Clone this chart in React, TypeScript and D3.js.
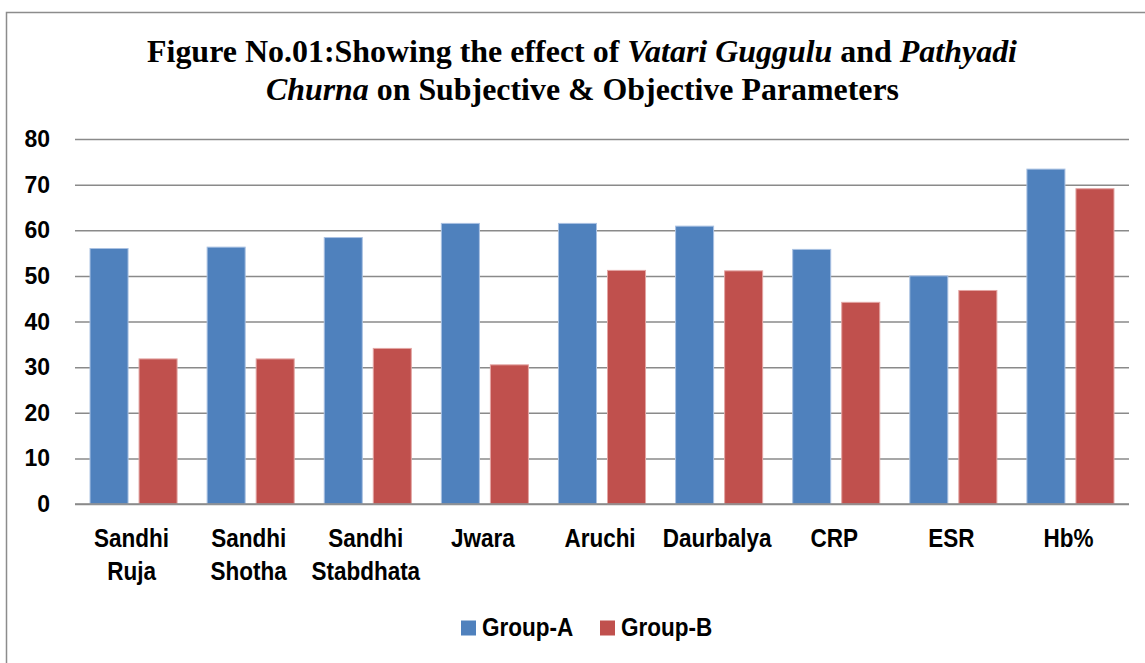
import { useEffect, useRef } from "react";
import * as d3 from "d3";

const categories = [
  "Sandhi Ruja",
  "Sandhi Shotha",
  "Sandhi Stabdhata",
  "Jwara",
  "Aruchi",
  "Daurbalya",
  "CRP",
  "ESR",
  "Hb%",
];
const seriesNames = ["Group-A", "Group-B"];
const groupA = [56.0, 56.3, 58.4, 61.5, 61.5, 60.9, 55.8, 50.0, 73.4];
const groupB = [31.8, 31.8, 34.1, 30.5, 51.2, 51.1, 44.2, 46.8, 69.1];
const yTicks = [0, 10, 20, 30, 40, 50, 60, 70, 80];
const colors = ["#4F81BD", "#C0504D"];
const edgeColors = ["#a9c1e2", "#e3a5a3"];

const titleLine1: [string, boolean][] = [
  ["Figure No.01:Showing the effect of ", false],
  ["Vatari Guggulu", true],
  [" and ", false],
  ["Pathyadi", true],
];
const titleLine2: [string, boolean][] = [
  ["Churna", true],
  [" on Subjective & Objective Parameters", false],
];

const W = 1145;
const H = 663;
const SANS = "'Liberation Sans', Arial, sans-serif";

export default function App() {
  const svgRef = useRef<SVGSVGElement>(null);

  useEffect(() => {
    document.body.style.margin = "0";
    if (!svgRef.current) return;
    const margin = { top: 139, right: 16, bottom: 159, left: 75 };
    const innerW = W - margin.left - margin.right;
    const innerH = H - margin.top - margin.bottom;

    const svg = d3.select(svgRef.current);
    svg.selectAll("*").remove();

    // frame
    svg.append("rect")
      .attr("x", 6.5)
      .attr("y", 12.5)
      .attr("width", W + 10)
      .attr("height", H + 10)
      .attr("fill", "#fff")
      .attr("stroke", "#8c8c8c")
      .attr("stroke-width", 1.5);

    // title
    const addTitle = (parts: [string, boolean][], x: number, y: number, len: number) => {
      const t = svg.append("text")
        .attr("x", x)
        .attr("y", y)
        .attr("font-family", "'Liberation Serif', 'Times New Roman', serif")
        .attr("font-weight", "bold")
        .attr("font-size", 32)
        .attr("fill", "#000")
        .attr("textLength", len)
        .attr("lengthAdjust", "spacingAndGlyphs");
      parts.forEach(([s, it]) => {
        t.append("tspan").attr("font-style", it ? "italic" : "normal").text(s);
      });
    };
    addTitle(titleLine1, 147, 62, 870);
    addTitle(titleLine2, 266, 100, 633);

    const g = svg.append("g").attr("transform", `translate(${margin.left},${margin.top})`);

    const y = d3.scaleLinear().domain([0, 80]).range([innerH, 0]);
    const x0 = d3.scaleBand().domain(categories).range([0, innerW]).paddingInner(0.248).paddingOuter(0.124);
    const x1 = d3.scaleBand().domain(seriesNames).range([0, x0.bandwidth()]).paddingInner(0.204).paddingOuter(0);

    // grid lines
    g.append("g")
      .call(d3.axisLeft(y).tickValues(yTicks).tickSize(-innerW).tickFormat(() => ""))
      .call((a) => a.select(".domain").remove())
      .call((a) => a.selectAll("line").attr("stroke", "#8a8a8a").attr("stroke-width", 1.5));

    // bars
    const rows = categories.map((c, i) => ({ c, vals: [groupA[i], groupB[i]] }));
    const grp = g.selectAll(".cat")
      .data(rows)
      .join("g")
      .attr("class", "cat")
      .attr("transform", (d) => `translate(${x0(d.c)},0)`);
    grp.selectAll("rect")
      .data((d) => d.vals.map((v, k) => ({ k, v })))
      .join("rect")
      .attr("x", (d) => x1(seriesNames[d.k])! + 0.5)
      .attr("width", x1.bandwidth() - 1)
      .attr("y", (d) => y(d.v))
      .attr("height", (d) => y(0) - y(d.v))
      .attr("fill", (d) => colors[d.k])
      .attr("stroke", (d) => edgeColors[d.k])
      .attr("stroke-width", 1);

    // baseline axis
    g.append("line")
      .attr("x1", 0)
      .attr("x2", innerW)
      .attr("y1", y(0))
      .attr("y2", y(0))
      .attr("stroke", "#8a8a8a")
      .attr("stroke-width", 1.5);

    // y tick labels
    g.selectAll(".ytick")
      .data(yTicks)
      .join("text")
      .attr("class", "ytick")
      .attr("x", -25)
      .attr("y", (d) => y(d))
      .attr("dy", "0.35em")
      .attr("text-anchor", "end")
      .attr("font-family", SANS)
      .attr("font-weight", "bold")
      .attr("font-size", 23)
      .text((d) => d);

    // category labels (squeezed to look like a narrow face)
    const lab = g.selectAll(".xlab")
      .data(categories)
      .join("text")
      .attr("class", "xlab")
      .attr("text-anchor", "middle")
      .attr("font-family", SANS)
      .attr("font-weight", "bold")
      .attr("font-size", 25)
      .attr("transform", (d) => `translate(${x0(d)! + x0.bandwidth() / 2 - 2},${innerH + 43}) scale(0.9,1)`);
    lab.selectAll("tspan")
      .data((d) => d.split(" "))
      .join("tspan")
      .attr("x", 0)
      .attr("y", (_, i) => i * 33)
      .text((d) => d);

    // legend
    const legX = [461, 600];
    seriesNames.forEach((s, i) => {
      svg.append("rect")
        .attr("x", legX[i])
        .attr("y", 620.5)
        .attr("width", 15)
        .attr("height", 15)
        .attr("fill", colors[i]);
      svg.append("text")
        .attr("transform", `translate(${legX[i] + 21},636) scale(0.9,1)`)
        .attr("font-family", SANS)
        .attr("font-weight", "bold")
        .attr("font-size", 25)
        .text(s);
    });
  }, []);

  return <svg ref={svgRef} width={W} height={H} style={{ display: "block" }} />;
}
